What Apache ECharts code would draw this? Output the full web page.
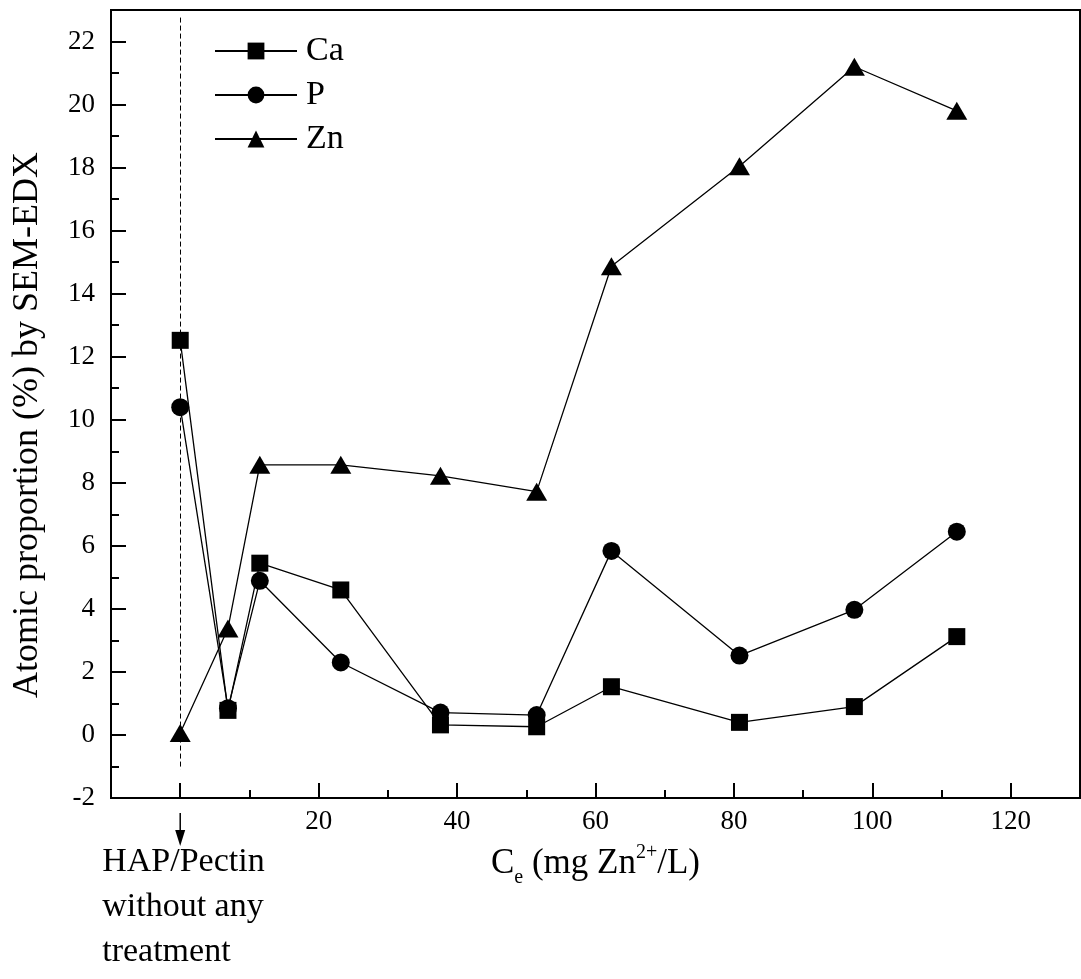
<!DOCTYPE html>
<html>
<head>
<meta charset="utf-8">
<title>Atomic proportion by SEM-EDX</title>
<script src="https://cdn.jsdelivr.net/npm/echarts@6/dist/echarts.min.js"></script>
<style>
  html, body { margin: 0; padding: 0; background: #fff; }
  #chart { width: 1081px; height: 979px; }
</style>
</head>
<body>
<div id="chart"></div>
<script>
// Ce (mg Zn2+/L); the first point is HAP/Pectin without any treatment
const ceValues = [0, 6.9, 11.5, 23.2, 37.6, 51.5, 62.3, 80.8, 97.4, 112.2];
const caValues = [12.52, 0.78, 5.45, 4.6, 0.32, 0.26, 1.53, 0.4, 0.9, 3.12];
const pValues = [10.4, 0.85, 4.89, 2.3, 0.71, 0.63, 5.84, 2.52, 3.97, 6.45];
const znValues = [0.06, 3.38, 8.57, 8.57, 8.22, 7.72, 14.87, 18.04, 21.2, 19.8];

const xMajorTicks = [0, 20, 40, 60, 80, 100, 120];
const xTickLabels = [20, 40, 60, 80, 100, 120];
const xMinorTicks = [10, 30, 50, 70, 90, 110];
const yMajorTicks = [-2, 0, 2, 4, 6, 8, 10, 12, 14, 16, 18, 20, 22];
const yMinorTicks = [-1, 1, 3, 5, 7, 9, 11, 13, 15, 17, 19, 21];

const FONT = "'Liberation Serif', 'Times New Roman', serif";
const black = '#000';

function pairs(ys) {
  return ceValues.map((x, i) => [x, ys[i]]);
}

function lineSeries(name, values, symbol, size) {
  return {
    name: name,
    type: 'line',
    data: pairs(values),
    symbol: symbol,
    symbolSize: size,
    showSymbol: true,
    itemStyle: { color: black },
    lineStyle: { color: black, width: 1.3 },
    emphasis: { disabled: true },
    z: 3
  };
}

const chart = echarts.init(document.getElementById('chart'));

const series = [
  lineSeries('Ca', caValues, 'rect', 17),
  lineSeries('P', pValues, 'circle', 18),
  lineSeries('Zn', znValues, 'triangle', [21, 18])
];
// dashed guide at the untreated sample
series[0].markLine = {
  silent: true,
  symbol: ['none', 'none'],
  label: { show: false },
  emphasis: { disabled: true },
  lineStyle: { type: [5, 3], color: black, width: 1 },
  data: [[{ coord: [0, 22.76] }, { coord: [0, -1.1] }]]
};

chart.setOption({
  animation: false,
  backgroundColor: '#fff',
  grid: {
    left: 111,
    right: 1,
    top: 10,
    bottom: 181,
    show: true,
    borderColor: black,
    borderWidth: 2,
    containLabel: false,
    outerBoundsMode: 'none'
  },
  legend: {
    orient: 'vertical',
    left: 214,
    top: 34,
    padding: 0,
    itemWidth: 82,
    itemHeight: 21,
    itemGap: 10,
    selectedMode: false,
    textStyle: {
      fontFamily: FONT,
      fontSize: 34,
      lineHeight: 34,
      color: black,
      padding: [0, 0, 0, 4]
    },
    data: ['Ca', 'P', 'Zn']
  },
  xAxis: [
    {
      type: 'value',
      min: -10,
      max: 130,
      position: 'bottom',
      axisLine: { show: true, onZero: false, lineStyle: { color: black, width: 2 } },
      axisTick: {
        show: true,
        inside: true,
        length: 15,
        customValues: xMajorTicks,
        lineStyle: { color: black, width: 2 }
      },
      axisLabel: {
        customValues: xTickLabels,
        margin: 10,
        fontFamily: FONT,
        fontSize: 27,
        color: black
      },
      splitLine: { show: false },
      name: '{m|C}{sub|e}{m| (mg Zn}{sup|2+}{m|/L)}',
      nameLocation: 'middle',
      nameGap: 35,
      nameTextStyle: {
        fontFamily: FONT,
        fontSize: 35,
        color: black,
        rich: {
          m: { fontFamily: FONT, fontSize: 35, color: black, lineHeight: 40 },
          sub: { fontFamily: FONT, fontSize: 20, color: black, lineHeight: 40, padding: [28, 0, 0, 0] },
          sup: { fontFamily: FONT, fontSize: 20, color: black, lineHeight: 40, padding: [0, 0, 22, 0] }
        }
      }
    },
    {
      type: 'value',
      min: -10,
      max: 130,
      position: 'bottom',
      axisLine: { show: false, onZero: false },
      axisTick: {
        show: true,
        inside: true,
        length: 8,
        customValues: xMinorTicks,
        lineStyle: { color: black, width: 2 }
      },
      axisLabel: { show: false },
      splitLine: { show: false }
    }
  ],
  yAxis: [
    {
      type: 'value',
      min: -2,
      max: 23,
      position: 'left',
      axisLine: { show: true, onZero: false, lineStyle: { color: black, width: 2 } },
      axisTick: {
        show: true,
        inside: true,
        length: 15,
        customValues: yMajorTicks,
        lineStyle: { color: black, width: 2 }
      },
      axisLabel: {
        customValues: yMajorTicks,
        margin: 16,
        fontFamily: FONT,
        fontSize: 27,
        color: black
      },
      splitLine: { show: false },
      name: 'Atomic proportion (%) by SEM-EDX',
      nameLocation: 'middle',
      nameGap: 65,
      nameTextStyle: {
        fontFamily: FONT,
        fontSize: 36,
        color: black,
        padding: [0, 42, 0, 0]
      }
    },
    {
      type: 'value',
      min: -2,
      max: 23,
      position: 'left',
      axisLine: { show: false, onZero: false },
      axisTick: {
        show: true,
        inside: true,
        length: 8,
        customValues: yMinorTicks,
        lineStyle: { color: black, width: 2 }
      },
      axisLabel: { show: false },
      splitLine: { show: false }
    }
  ],
  series: series
});

// arrow and note below the axis, placed from the axis scale
const x0 = chart.convertToPixel({ xAxisIndex: 0 }, 0);
const yBase = chart.convertToPixel({ yAxisIndex: 0 }, -2);
chart.setOption({
  graphic: [
    {
      type: 'line',
      silent: true,
      shape: { x1: x0, y1: yBase + 15, x2: x0, y2: yBase + 34 },
      style: { stroke: black, lineWidth: 1.5 }
    },
    {
      type: 'polygon',
      silent: true,
      shape: { points: [[x0 - 5, yBase + 32], [x0 + 5, yBase + 32], [x0, yBase + 48]] },
      style: { fill: black }
    },
    {
      type: 'text',
      silent: true,
      x: x0 - 78,
      y: yBase + 42,
      style: {
        text: 'HAP/Pectin\nwithout any\ntreatment',
        fontFamily: FONT,
        fontSize: 34,
        lineHeight: 45,
        fill: black,
        align: 'left',
        verticalAlign: 'top'
      }
    }
  ]
});
</script>
</body>
</html>
